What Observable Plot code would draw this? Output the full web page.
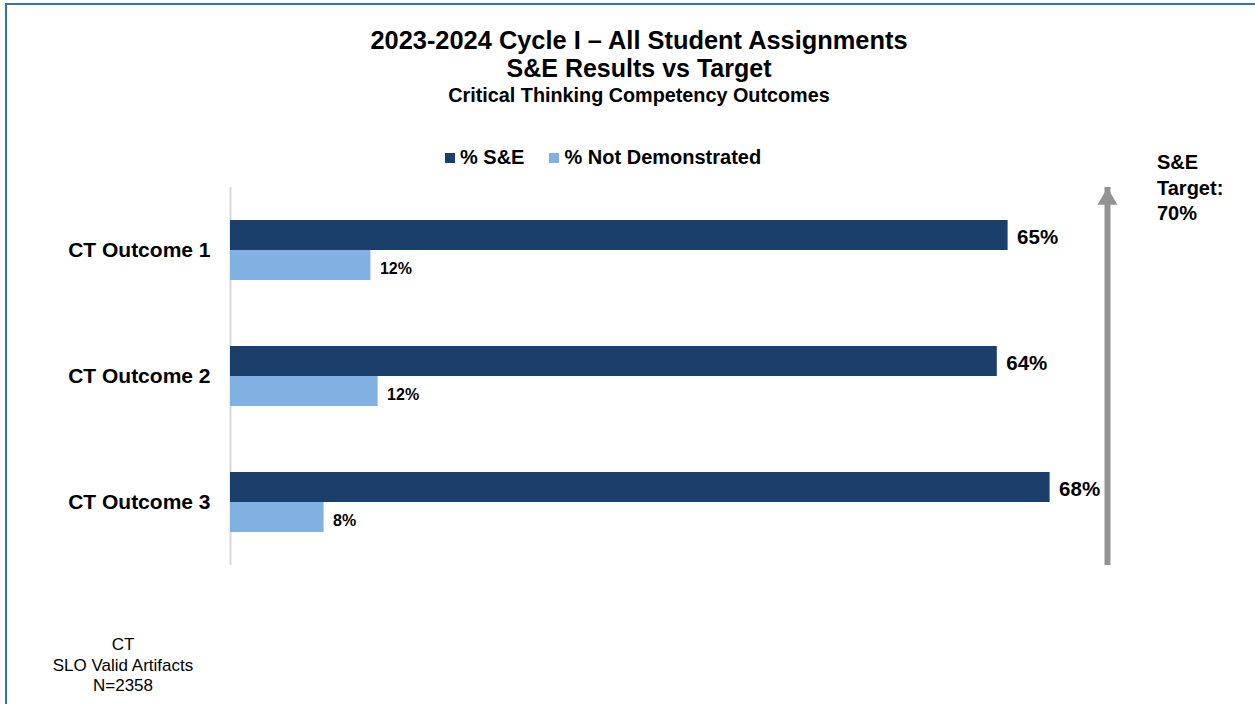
<!DOCTYPE html>
<html>
<head>
<meta charset="utf-8">
<script src="https://cdn.jsdelivr.net/npm/d3@7"></script>
<script src="https://cdn.jsdelivr.net/npm/@observablehq/plot@0.6"></script>
<style>
  html, body { margin: 0; padding: 0; background: #fff; overflow: hidden; }
  #wrap { position: relative; width: 1255px; height: 704px; background: #fff;
          font-family: "Liberation Sans", Arial, sans-serif; color: #000; }
  #border { position: absolute; left: 5px; top: 3px; right: 0; bottom: 0;
            border-top: 2px solid #2e75b6; border-left: 2px solid #2e75b6; }
  .t { position: absolute; white-space: nowrap; font-weight: bold; }
  #title { position: absolute; left: 0; width: 1278px; top: 0; height: 110px; text-align: center; }
  #title div { left: 0; right: 0; }
  #legend { position: absolute; top: 146px; left: 445px; font-size: 20px; font-weight: bold; display: flex; align-items: center; }
  #legend .sw { display: inline-block; width: 10px; height: 10px; margin-right: 5px; }
  #legend .item { display: flex; align-items: center; margin-right: 25px; }
  #target { position: absolute; left: 1157px; top: 150px; font-size: 20px; font-weight: bold; line-height: 25.5px; }
  #foot { position: absolute; left: 23px; width: 200px; top: 635px; text-align: center; font-size: 17px; line-height: 20.5px; }
  #chart { position: absolute; left: 0; top: 0; }
</style>
</head>
<body>
<div id="wrap">
  <div id="border"></div>
  <div id="chart"></div>
  <div id="title"></div>
  <div id="legend"></div>
  <div id="target"></div>
  <div id="foot"></div>
</div>
<script>
// ---- data ----
const titleLines = ["2023-2024 Cycle I \u2013 All Student Assignments", "S&E Results vs Target", "Critical Thinking Competency Outcomes"];
const outcomes = ["CT Outcome 1", "CT Outcome 2", "CT Outcome 3"];
const series = ["% S&E", "% Not Demonstrated"];
const seValues = [64.8, 63.9, 68.3];
const ndValues = [11.7, 12.3, 7.8];
const seLabels = ["65%", "64%", "68%"];
const ndLabels = ["12%", "12%", "8%"];
const target = 70;
const targetLines = ["S&E", "Target:", "70%"];
const footLines = ["CT", "SLO Valid Artifacts", "N=2358"];
const colors = ["#1a3f6b", "#80b1e2"];

// ---- table ----
const rows = [];
outcomes.forEach((o, i) => {
  rows.push({outcome: o, series: series[0], value: seValues[i], label: seLabels[i]});
  rows.push({outcome: o, series: series[1], value: ndValues[i], label: ndLabels[i]});
});

// ---- titles ----
const titleEl = document.getElementById("title");
const tStyles = [{top: 26, size: 25.4}, {top: 54, size: 25}, {top: 84, size: 19.8}];
titleLines.forEach((s, i) => {
  const d = document.createElement("div");
  d.className = "t";
  d.style.top = tStyles[i].top + "px";
  d.style.fontSize = tStyles[i].size + "px";
  d.textContent = s;
  titleEl.appendChild(d);
});

// ---- legend ----
const legendEl = document.getElementById("legend");
series.forEach((s, i) => {
  const it = document.createElement("span");
  it.className = "item";
  const sw = document.createElement("span");
  sw.className = "sw";
  sw.style.background = colors[i];
  it.appendChild(sw);
  it.appendChild(document.createTextNode(s));
  legendEl.appendChild(it);
});

document.getElementById("target").innerHTML = targetLines.join("<br>");
document.getElementById("foot").innerHTML = footLines.join("<br>");

// ---- chart ----
const chart = Plot.plot({
  width: 1255,
  height: 704,
  marginLeft: 230,
  marginRight: 65,
  marginTop: 186,
  marginBottom: 139,
  style: {fontFamily: "Liberation Sans, Arial, sans-serif", background: "transparent", color: "#000", overflow: "visible"},
  x: {domain: [0, 80], axis: null},
  y: {domain: series, axis: null, paddingInner: 0, paddingOuter: 1.1},
  fy: {domain: outcomes, padding: 0, axis: null},
  color: {domain: series, range: colors},
  marks: [
    Plot.ruleX([0], {stroke: "#d9d9d9", strokeWidth: 2}),
    Plot.barX(rows, {fy: "outcome", y: "series", x: "value", fill: "series"}),
    Plot.text(rows.filter(d => d.series === series[0]), {
      fy: "outcome", y: "series", x: "value", text: "label",
      dx: 9, dy: 2, textAnchor: "start", fontSize: 20.5, fontWeight: "bold", fill: "#000"
    }),
    Plot.text(rows.filter(d => d.series === series[1]), {
      fy: "outcome", y: "series", x: "value", text: "label",
      dx: 9, dy: 3, textAnchor: "start", fontSize: 16, fontWeight: "bold", fill: "#000"
    }),
    Plot.text(outcomes, {
      fy: d => d, text: d => d, frameAnchor: "left", dx: -20, textAnchor: "end",
      fontSize: 21, fontWeight: "bold", fill: "#000"
    }),
    Plot.ruleX([target], {dx: 37, stroke: "#939393", strokeWidth: 6}),
    Plot.dot([target], {
      x: d => d, fy: () => outcomes[0], frameAnchor: "top", dx: 37, dy: 11.5,
      symbol: "triangle", r: 7.4, fill: "#939393", stroke: "none"
    })
  ]
});
document.getElementById("chart").appendChild(chart);
</script>
</body>
</html>
